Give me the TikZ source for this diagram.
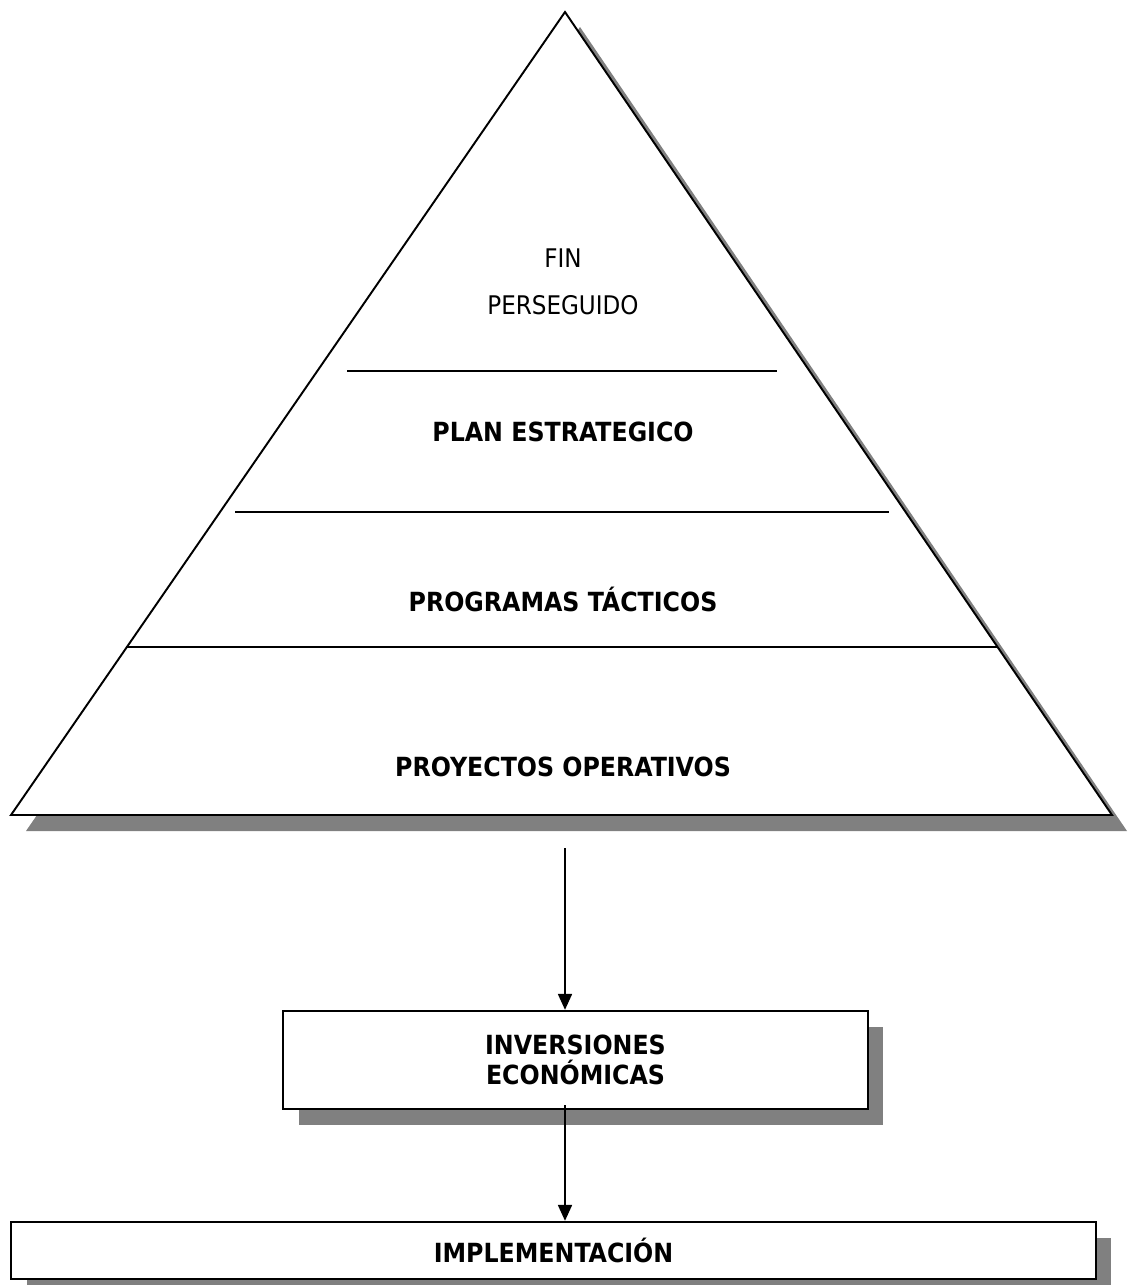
\documentclass[tikz,border=0pt]{standalone}
\usepackage{fontspec}
\setmainfont{DejaVu Sans Condensed}
\usetikzlibrary{arrows.meta, positioning, shadows}

\tikzset{
  sombra/.style={fill=black!50, draw=none},
  caja/.style={draw, line width=1.4pt, fill=white, inner sep=0pt,
    drop shadow={shadow xshift=0.31cm, shadow yshift=-0.32cm, fill=black!50, opacity=1}},
  nivel/.style={font=\fontsize{15}{17.5}\selectfont\bfseries, align=center},
  flecha/.style={-{Triangle[length=9pt,width=8pt]}, line width=0.8pt},
}

\begin{document}
\begin{tikzpicture}[x=0.02cm, y=-0.02cm]
\useasboundingbox (0,0) rectangle (1127,1285);

% piramide
\fill[sombra] (580,27) -- (1127,831) -- (26,831) -- cycle;
\draw[fill=white, line width=1.1pt, line join=miter] (565,12) -- (1112,815) -- (11,815) -- cycle;
\draw[line width=1.1pt] (347,371) -- (777,371);
\draw[line width=1.1pt] (235,512) -- (889,512);
\draw[line width=1.1pt] (126,647) -- (998,647);

\node[font=\fontsize{14.6}{26.6}\selectfont, align=center] (fin) at (563,282) {FIN\\PERSEGUIDO};
\node[nivel] (plan) at (563,432) {PLAN ESTRATEGICO};
\node[nivel] (tacticos) at (563,599) {PROGRAMAS TÁCTICOS};
\node[nivel] (operativos) at (563,767) {PROYECTOS OPERATIVOS};

% cajas
\node[caja, nivel, minimum width=11.7cm, minimum height=1.96cm] (inv) at (575.5,1060) {INVERSIONES\\ECONÓMICAS};
\node[caja, nivel, minimum width=21.7cm, minimum height=1.14cm] (impl) at (553.5,1250.5) {IMPLEMENTACIÓN};

\coordinate (base) at (565,848);
\draw[flecha] (base) -- (base |- inv.north);
\draw[flecha] ([yshift=0.1cm]base |- inv.south) -- (base |- impl.north);
\end{tikzpicture}
\end{document}
